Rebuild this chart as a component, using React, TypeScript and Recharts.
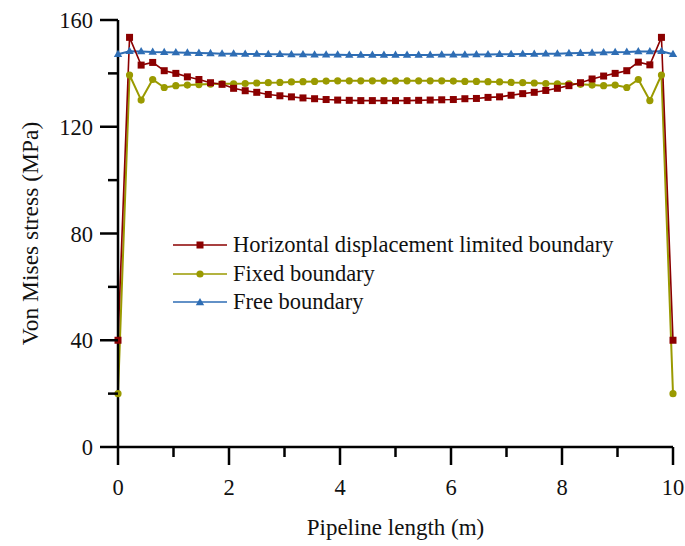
import { LineChart, Line, XAxis, YAxis, Legend } from 'recharts';

// pipeline length (m), 48 elements over 10 m
const positions = [
  0, 0.208, 0.417, 0.625, 0.833, 1.042, 1.25, 1.458, 1.667, 1.875, 2.083, 2.292, 2.5,
  2.708, 2.917, 3.125, 3.333, 3.542, 3.75, 3.958, 4.167, 4.375, 4.583, 4.792, 5,
  5.208, 5.417, 5.625, 5.833, 6.042, 6.25, 6.458, 6.667, 6.875, 7.083, 7.292, 7.5,
  7.708, 7.917, 8.125, 8.333, 8.542, 8.75, 8.958, 9.167, 9.375, 9.583, 9.792, 10,
];

// Von Mises stress (MPa)
const horizontalLimited = [
  40, 153.5, 143.1, 144.1, 141.0, 140.0, 138.7, 137.7, 136.5, 135.9, 134.4, 133.5, 132.9,
  132.1, 131.6, 131.2, 130.8, 130.5, 130.2, 130.0, 129.9, 129.8, 129.8, 129.8, 129.8,
  129.8, 129.9, 130.0, 130.1, 130.2, 130.5, 130.6, 131.0, 131.2, 131.8, 132.4, 132.9,
  133.6, 134.4, 135.4, 136.5, 137.9, 139.0, 140.0, 141.0, 144.2, 143.2, 153.5, 40,
];

const fixedBoundary = [
  20, 139.4, 130.0, 137.7, 134.7, 135.4, 135.6, 135.8, 136.0, 136.1, 136.1, 136.2, 136.4,
  136.5, 136.6, 136.8, 136.9, 137.0, 137.1, 137.2, 137.2, 137.2, 137.2, 137.2, 137.2,
  137.2, 137.2, 137.2, 137.2, 137.1, 137.0, 137.0, 136.9, 136.8, 136.6, 136.5, 136.4,
  136.2, 136.1, 136.1, 135.9, 135.6, 135.4, 135.6, 134.7, 137.7, 129.8, 139.4, 20,
];

const freeBoundary = [
  147.2, 148.3, 148.2, 148.0, 147.9, 147.8, 147.7, 147.6, 147.5, 147.4, 147.4, 147.3, 147.3,
  147.2, 147.2, 147.1, 147.1, 147.0, 147.0, 147.0, 146.9, 146.9, 146.9, 146.9, 146.9,
  146.9, 146.9, 146.9, 147.0, 147.0, 147.0, 147.1, 147.1, 147.2, 147.2, 147.3, 147.3,
  147.4, 147.4, 147.5, 147.6, 147.7, 147.8, 147.9, 148.0, 148.2, 148.2, 148.3, 147.2,
];

const xTicks = [0, 1, 2, 3, 4, 5, 6, 7, 8, 9, 10];
const yTicks = [0, 20, 40, 60, 80, 100, 120, 140, 160];

const FONT = '"Liberation Serif", "Times New Roman", serif';
const COLORS = {
  red: '#8b0000',
  olive: '#9a9a00',
  blue: '#2e6db4',
};

const data = positions.map((x, i) => ({
  x,
  hd: horizontalLimited[i],
  fixed: fixedBoundary[i],
  free: freeBoundary[i],
}));

const series = [
  { name: 'Horizontal displacement limited boundary', color: COLORS.red, shape: 'square' },
  { name: 'Fixed boundary', color: COLORS.olive, shape: 'circle' },
  { name: 'Free boundary', color: COLORS.blue, shape: 'triangle' },
];

function Marker({ shape, cx, cy, color }: { shape: string; cx: number; cy: number; color: string }) {
  if (shape === 'square') {
    return <rect x={cx - 3.5} y={cy - 3.5} width={7} height={7} fill={color} />;
  }
  if (shape === 'circle') {
    return <circle cx={cx} cy={cy} r={3.6} fill={color} />;
  }
  return (
    <polygon
      points={`${cx},${cy - 4.5} ${cx + 4.2},${cy + 2.8} ${cx - 4.2},${cy + 2.8}`}
      fill={color}
    />
  );
}

const makeDot = (shape: string, color: string) => (props: any) => {
  if (props.cx == null || props.cy == null) return <g key={props.index} />;
  return (
    <g key={`${shape}-${props.index}`}>
      <Marker shape={shape} cx={props.cx} cy={props.cy} color={color} />
    </g>
  );
};

const XTick = (props: any) => {
  const { x, y, payload } = props;
  const major = payload.value % 2 === 0;
  return (
    <g>
      <line x1={x} y1={y} x2={x} y2={y + (major ? 18 : 10)} stroke="#000" strokeWidth={2.5} />
      {major && (
        <text x={x} y={y + 48} textAnchor="middle" fontSize={22.5} fontFamily={FONT} fill="#111">
          {payload.value}
        </text>
      )}
    </g>
  );
};

const YTick = (props: any) => {
  const { x, y, payload } = props;
  const major = payload.value % 40 === 0;
  return (
    <g>
      <line x1={x - (major ? 18 : 10)} y1={y} x2={x} y2={y} stroke="#000" strokeWidth={2.5} />
      {major && (
        <text x={x - 25} y={y + 8} textAnchor="end" fontSize={22.5} fontFamily={FONT} fill="#111">
          {payload.value}
        </text>
      )}
    </g>
  );
};

const XTitle = (props: any) => {
  const vb = props.viewBox || {};
  return (
    <text x={vb.x + vb.width / 2} y={535} textAnchor="middle" fontSize={23} fontFamily={FONT} fill="#111">
      Pipeline length (m)
    </text>
  );
};

const YTitle = (props: any) => {
  const vb = props.viewBox || {};
  const cy = vb.y + vb.height / 2;
  return (
    <text
      x={38}
      y={cy}
      transform={`rotate(-90, 38, ${cy})`}
      textAnchor="middle"
      fontSize={23.5}
      fontFamily={FONT}
      fill="#111"
    >
      Von Mises stress (MPa)
    </text>
  );
};

const renderLegend = () => (
  <div style={{ fontFamily: FONT, fontSize: 22.5, color: '#111' }}>
    {series.map((s) => (
      <div key={s.name} style={{ display: 'flex', alignItems: 'center', height: 28.4, whiteSpace: 'nowrap' }}>
        <svg width={54} height={12} style={{ marginRight: 6 }}>
          <line x1={0} y1={6} x2={54} y2={6} stroke={s.color} strokeWidth={1.6} />
          <Marker shape={s.shape} cx={27} cy={s.shape === 'triangle' ? 6.5 : 6} color={s.color} />
        </svg>
        <span>{s.name}</span>
      </div>
    ))}
  </div>
);

export default function App() {
  return (
    <div style={{ position: 'absolute', left: 0, top: 0, width: 685, height: 546, background: '#fff' }}>
      <LineChart width={685} height={546} data={data} margin={{ top: 20, right: 12, left: 0, bottom: 0 }}>
        <XAxis
          dataKey="x"
          type="number"
          domain={[0, 10]}
          ticks={xTicks}
          interval={0}
          height={99}
          tickLine={false}
          tickSize={0}
          tickMargin={0}
          tick={<XTick />}
          axisLine={{ stroke: '#000', strokeWidth: 2.5 }}
          label={<XTitle />}
        />
        <YAxis
          type="number"
          domain={[0, 160]}
          ticks={yTicks}
          interval={0}
          width={118}
          tickLine={false}
          tickSize={0}
          tickMargin={0}
          tick={<YTick />}
          axisLine={{ stroke: '#000', strokeWidth: 2.5 }}
          label={<YTitle />}
        />
        <Line
          dataKey="free"
          stroke={COLORS.blue}
          strokeWidth={2}
          dot={makeDot('triangle', COLORS.blue)}
          activeDot={false}
          isAnimationActive={false}
        />
        <Line
          dataKey="fixed"
          stroke={COLORS.olive}
          strokeWidth={2}
          dot={makeDot('circle', COLORS.olive)}
          activeDot={false}
          isAnimationActive={false}
        />
        <Line
          dataKey="hd"
          stroke={COLORS.red}
          strokeWidth={1.6}
          dot={makeDot('square', COLORS.red)}
          activeDot={false}
          isAnimationActive={false}
        />
        <Legend
          layout="vertical"
          align="center"
          verticalAlign="middle"
          content={renderLegend}
          wrapperStyle={{ left: 173, top: 231, width: 'auto' }}
        />
      </LineChart>
    </div>
  );
}
